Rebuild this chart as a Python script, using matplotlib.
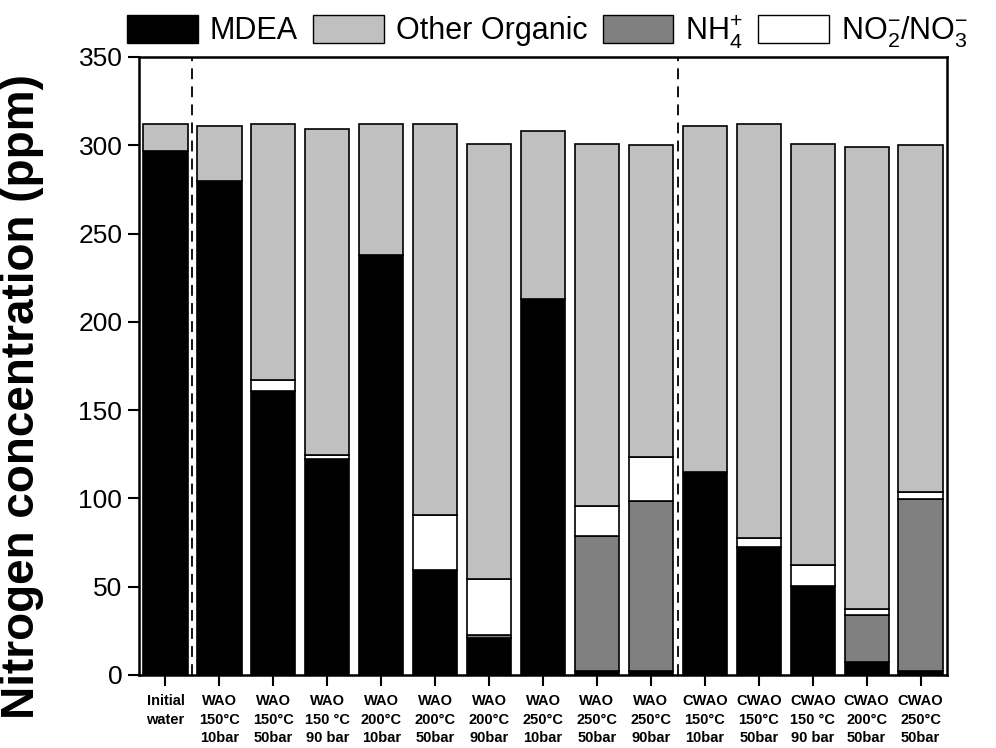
import matplotlib
matplotlib.use("Agg")
import matplotlib.pyplot as plt
import numpy as np
from matplotlib.patches import Patch

plt.rcParams['font.family'] = ['Liberation Sans', 'DejaVu Sans']
plt.rcParams['mathtext.fontset'] = 'custom'
plt.rcParams['mathtext.rm'] = 'Liberation Sans'

# sample labels
labels = ["Initial\nwater",
          "WAO\n150°C\n10bar", "WAO\n150°C\n50bar", "WAO\n150 °C\n90 bar",
          "WAO\n200°C\n10bar", "WAO\n200°C\n50bar", "WAO\n200°C\n90bar",
          "WAO\n250°C\n10bar", "WAO\n250°C\n50bar", "WAO\n250°C\n90bar",
          "CWAO\n150°C\n10bar", "CWAO\n150°C\n50bar", "CWAO\n150 °C\n90 bar",
          "CWAO\n200°C\n50bar", "CWAO\n250°C\n50bar"]

# nitrogen species (ppm), stacked bottom -> top: MDEA, NH4+, NO2-/NO3-, other organic
mdea  = [297, 280, 161, 122.5, 238, 59.5, 21, 213, 2.5, 2.5, 115, 72.3, 50.4, 7.2, 2.5]
nh4   = [0, 0, 0, 0, 0, 0, 1.5, 0, 76, 96, 0, 0, 0, 27, 97]
nox   = [0, 0, 6, 2, 0, 31, 32, 0, 17, 25, 0, 5.5, 12, 3, 4]
other = [15, 31, 145, 184.5, 74, 221.5, 246.5, 95, 205.5, 176.5, 196, 234.2, 238.6, 261.8, 196.5]

c_mdea, c_other, c_nh4, c_nox = "black", "#c0c0c0", "#808080", "white"

fig = plt.figure(figsize=(9.96, 7.48), dpi=100)
ax = fig.add_axes([0.1396, 0.0976, 0.8112, 0.8262])

x = np.arange(len(labels))
w = 0.82
b1 = np.array(mdea)
b2 = b1 + np.array(nh4)
b3 = b2 + np.array(nox)

kw = dict(width=w, edgecolor="black", linewidth=1.2)
ax.bar(x, mdea, color=c_mdea, **kw)
ax.bar(x, nh4, bottom=b1, color=c_nh4, **kw)
ax.bar(x, nox, bottom=b2, color=c_nox, **kw)
ax.bar(x, other, bottom=b3, color=c_other, **kw)

for xv in [0.5, 9.5]:
    ax.axvline(xv, color="black", linestyle=(0, (6, 4)), linewidth=1.3)

ax.set_xlim(-0.49, 14.49)
ax.set_ylim(0, 350)
ax.set_yticks(range(0, 351, 50))
ax.set_xticks(x)
ax.set_xticklabels(labels, fontsize=10.5, fontweight="bold", linespacing=1.4)
ax.tick_params(axis="y", labelsize=19, direction="out", length=8, width=1.5, pad=4)
ax.tick_params(axis="x", direction="out", length=8, width=1.5, pad=6)
for s in ax.spines.values():
    s.set_linewidth(1.8)

ax.set_ylabel("Nitrogen concentration (ppm)", fontsize=33, fontweight="bold")
ax.yaxis.set_label_coords(-0.118, 0.45)

handles = [Patch(facecolor=c_mdea, edgecolor="black", label="MDEA"),
           Patch(facecolor=c_other, edgecolor="black", label="Other Organic"),
           Patch(facecolor=c_nh4, edgecolor="black", label=r"NH$_{4}^{+}$"),
           Patch(facecolor=c_nox, edgecolor="black", label=r"NO$_{2}^{-}$/NO$_{3}^{-}$")]
fig.legend(handles=handles, ncol=4, loc="center left",
           bbox_to_anchor=(0.128, 0.958), frameon=False, fontsize=22,
           handlelength=2.3, handleheight=1.05, handletextpad=0.4,
           columnspacing=0.5, borderpad=0, borderaxespad=0)

fig.savefig("out.png", dpi=100)
